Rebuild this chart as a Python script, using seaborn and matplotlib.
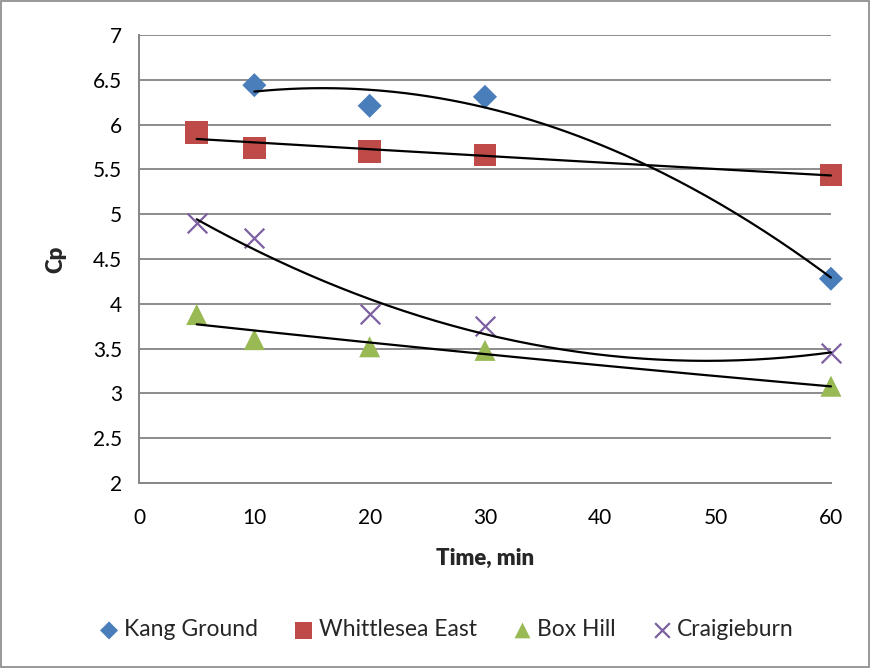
import numpy as np
import pandas as pd
import matplotlib
matplotlib.use("Agg")
import matplotlib.pyplot as plt
import seaborn as sns

series_names = ["Kang Ground", "Whittlesea East", "Box Hill", "Craigieburn"]
kang_x = [10, 20, 30, 60]
kang_y = [6.44, 6.21, 6.31, 4.28]
whit_x = [5, 10, 20, 30, 60]
whit_y = [5.91, 5.74, 5.70, 5.66, 5.44]
box_x = [5, 10, 20, 30, 60]
box_y = [3.88, 3.60, 3.52, 3.48, 3.08]
crai_x = [5, 10, 20, 30, 60]
crai_y = [4.90, 4.73, 3.89, 3.75, 3.45]

colors = {"Kang Ground": "#4A7EBB", "Whittlesea East": "#BE4B48",
          "Box Hill": "#98B954", "Craigieburn": "#7D60A0"}
markers = {"Kang Ground": "D", "Whittlesea East": "s", "Box Hill": "^", "Craigieburn": "x"}

frames = []
for name, xs, ys in [("Kang Ground", kang_x, kang_y), ("Whittlesea East", whit_x, whit_y),
                     ("Box Hill", box_x, box_y), ("Craigieburn", crai_x, crai_y)]:
    frames.append(pd.DataFrame({"x": xs, "y": ys, "series": name}))
df = pd.concat(frames, ignore_index=True)

sns.set_style("white")
plt.rcParams['font.family'] = ['Lato', 'DejaVu Sans']

fig = plt.figure(figsize=(8.71, 6.68), dpi=100)
ax = fig.add_axes([0.1596, 0.277, 0.7944, 0.6706])

# trendlines
fits = {"Kang Ground": ("poly2", kang_x, kang_y), "Whittlesea East": ("exp", whit_x, whit_y),
        "Box Hill": ("exp", box_x, box_y), "Craigieburn": ("poly2", crai_x, crai_y)}
for name, (kind, xs, ys) in fits.items():
    xs = np.array(xs, float); ys = np.array(ys, float)
    xx = np.linspace(xs.min(), xs.max(), 200)
    if kind == "poly2":
        yy = np.polyval(np.polyfit(xs, ys, 2), xx)
    else:
        c = np.polyfit(xs, np.log(ys), 1)
        yy = np.exp(np.polyval(c, xx))
    ax.plot(xx, yy, color="black", lw=1.6, zorder=3, clip_on=False)

sizes = {"Kang Ground": 150, "Whittlesea East": 260, "Box Hill": 230, "Craigieburn": 200}
for name in series_names:
    sub = df[df.series == name]
    kw = dict(edgecolor="none") if markers[name] != "x" else dict(linewidth=1.6)
    sns.scatterplot(data=sub, x="x", y="y", ax=ax, color=colors[name], marker=markers[name],
                    s=sizes[name], label=name, zorder=2, legend=True, clip_on=False, **kw)

ax.set_xlim(0, 60)
ax.set_ylim(2, 7)
ax.set_xticks(np.arange(0, 61, 10))
ax.set_yticks(np.arange(2, 7.01, 0.5))
ax.set_yticklabels([f"{v:g}" for v in np.arange(2, 7.01, 0.5)])
ax.grid(axis="y", color="#8C8C8C", lw=1.4)
ax.grid(axis="x", visible=False)
ax.set_axisbelow(True)
for s in ["top", "right"]:
    ax.spines[s].set_visible(False)
for s in ["left", "bottom"]:
    ax.spines[s].set_color("#868686")
    ax.spines[s].set_linewidth(1.4)
ax.tick_params(axis="both", length=0, labelsize=15, colors="black")
ax.tick_params(axis="y", pad=12)
ax.tick_params(axis="x", pad=18)
ax.set_xlabel("Time, min", fontsize=16, fontweight="heavy", labelpad=14)
ax.set_ylabel("Cp", fontsize=16, fontweight="heavy", labelpad=19)

ax.legend(loc="center", ncol=4, frameon=False,
          fontsize=16.5, handletextpad=0.15, handlelength=1.0, columnspacing=1.5,
          markerscale=0.75, borderaxespad=0,
          bbox_to_anchor=(0.443, (483 - 630) / 448.0), bbox_transform=ax.transAxes)

fig.patches.append(plt.Rectangle((0.001, 0.002), 0.997, 0.996, transform=fig.transFigure,
                                 fill=False, edgecolor="#868686", lw=1.2))
fig.savefig("out.png", dpi=100)
